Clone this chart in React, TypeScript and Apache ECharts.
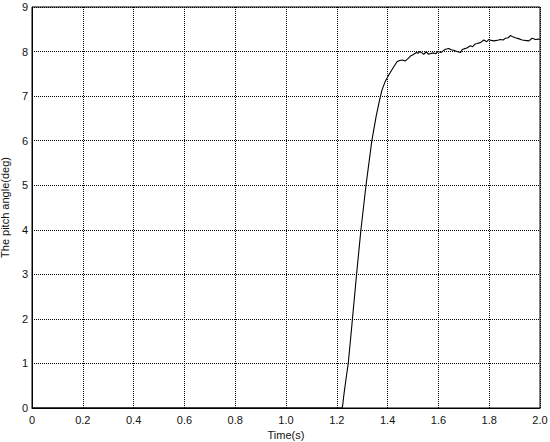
import React, { useEffect, useRef } from "react";
import * as echarts from "echarts";

const timeS = [
  0, 1.2, 1.215, 1.219, 1.223, 1.228, 1.235, 1.245, 1.26, 1.277, 1.295, 1.315, 1.338, 1.355,
  1.368, 1.378, 1.39, 1.404, 1.42, 1.437, 1.447, 1.457, 1.47, 1.48, 1.49, 1.5, 1.513, 1.52,
  1.526, 1.535, 1.542, 1.552, 1.562, 1.572, 1.582, 1.59, 1.597, 1.61, 1.62, 1.628, 1.641,
  1.65, 1.66, 1.672, 1.687, 1.693, 1.7, 1.712, 1.726, 1.735, 1.745, 1.752, 1.765, 1.779,
  1.79, 1.798, 1.808, 1.818, 1.83, 1.844, 1.855, 1.864, 1.875, 1.884, 1.893, 1.903, 1.915,
  1.93, 1.942, 1.956, 1.963, 1.969, 1.982, 1.995, 2.0,
];
const pitchDeg = [
  0, 0, 0, -0.02, 0.05, 0.3, 0.6, 1.0, 1.9, 2.95, 4.0, 5.0, 6.0, 6.55,
  6.9, 7.14, 7.32, 7.47, 7.62, 7.77, 7.8, 7.81, 7.79, 7.84, 7.9, 7.93, 7.98, 7.96,
  8.0, 7.97, 7.94, 7.99, 7.94, 7.96, 7.97, 7.95, 8.0, 7.98, 8.02, 8.05, 8.07,
  8.04, 8.03, 8.0, 7.98, 8.04, 8.06, 8.08, 8.13, 8.11, 8.17, 8.18, 8.2, 8.26,
  8.22, 8.27, 8.25, 8.24, 8.25, 8.27, 8.26, 8.3, 8.31, 8.36, 8.33, 8.31, 8.29,
  8.26, 8.25, 8.24, 8.27, 8.3, 8.27, 8.28, 8.27,
];
const xTicks = ["0", "0.2", "0.4", "0.6", "0.8", "1.0", "1.2", "1.4", "1.6", "1.8", "2.0"];

export default function App() {
  const ref = useRef<HTMLDivElement>(null);
  useEffect(() => {
    if (!ref.current) return;
    const chart = echarts.init(ref.current, null, { renderer: "svg" });
    const font = "Liberation Sans, Arial, sans-serif";
    chart.setOption({
      animation: false,
      backgroundColor: "#ffffff",
      grid: {
        left: 32,
        right: 10,
        top: 7,
        bottom: 34,
        containLabel: false,
        outerBoundsMode: "none",
        show: true,
        borderColor: "#000",
        borderWidth: 1,
        backgroundColor: "transparent",
      },
      xAxis: {
        type: "value",
        min: 0,
        max: 2,
        interval: 0.2,
        name: "Time(s)",
        nameLocation: "middle",
        nameGap: 16,
        nameTextStyle: { color: "#111", fontSize: 11, fontFamily: font },
        axisLine: { show: true, lineStyle: { color: "#000", width: 1 } },
        axisTick: { show: false },
        axisLabel: {
          color: "#111",
          fontSize: 11,
          fontFamily: font,
          margin: 6,
          formatter: (v: number) => xTicks[Math.round(v / 0.2)] ?? "",
        },
        splitLine: { show: true, lineStyle: { color: "#000", type: [1, 1], width: 1 } },
      },
      yAxis: {
        type: "value",
        min: 0,
        max: 9,
        interval: 1,
        name: "The pitch angle(deg)",
        nameLocation: "middle",
        nameGap: 19,
        nameTextStyle: { color: "#111", fontSize: 11, fontFamily: font },
        axisLine: { show: true, lineStyle: { color: "#000", width: 1 } },
        axisTick: { show: false },
        axisLabel: { color: "#111", fontSize: 11, fontFamily: font, margin: 4 },
        splitLine: { show: true, lineStyle: { color: "#000", type: [1, 1], width: 1 } },
      },
      series: [
        {
          type: "line",
          data: timeS.map((t, i) => [t, pitchDeg[i]]),
          showSymbol: false,
          symbol: "none",
          lineStyle: { color: "#000", width: 1.1 },
          clip: true,
        },
      ],
    });
    return () => chart.dispose();
  }, []);
  return <div ref={ref} style={{ width: 550, height: 442, position: "absolute", left: 0, top: 0 }} />;
}
